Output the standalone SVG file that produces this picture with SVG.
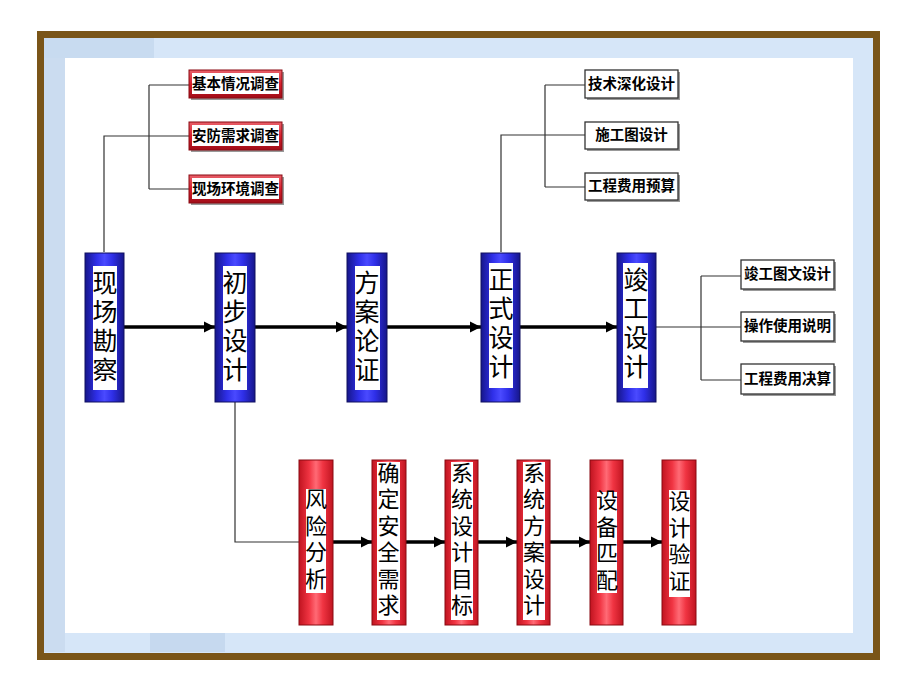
<svg xmlns="http://www.w3.org/2000/svg" width="920" height="690" viewBox="0 0 920 690">
<defs>
<linearGradient id="gBlue" x1="0" y1="0" x2="1" y2="0">
<stop offset="0" stop-color="#16168a"/><stop offset="0.3" stop-color="#2f2fe8"/><stop offset="0.5" stop-color="#4a4aff"/><stop offset="0.7" stop-color="#2f2fe8"/><stop offset="1" stop-color="#16168a"/>
</linearGradient>
<linearGradient id="gRed" x1="0" y1="0" x2="1" y2="0">
<stop offset="0" stop-color="#c01420"/><stop offset="0.3" stop-color="#f03442"/><stop offset="0.5" stop-color="#ff6a75"/><stop offset="0.7" stop-color="#f03442"/><stop offset="1" stop-color="#c01420"/>
</linearGradient>
<linearGradient id="gRedBox" x1="0" y1="0" x2="0" y2="1">
<stop offset="0" stop-color="#e8606a"/><stop offset="0.5" stop-color="#d81e2c"/><stop offset="1" stop-color="#a00d18"/>
</linearGradient>
<marker id="ah" markerUnits="userSpaceOnUse" markerWidth="12" markerHeight="12" refX="11" refY="6" orient="auto">
<path d="M0,0.5 L11,6 L0,11.5 z" fill="#000"/>
</marker>
<style>
.blue{fill:url(#gBlue);stroke:#101060;stroke-width:1}
.red{fill:url(#gRed);stroke:#8a0a12;stroke-width:1}
.inner{fill:#fff}
.big{font-family:"Noto Sans CJK SC","Noto Sans CJK JP",sans-serif;font-size:25px;fill:#000;text-anchor:middle;writing-mode:vertical-rl;letter-spacing:4px}
.mid{font-family:"Noto Sans CJK SC","Noto Sans CJK JP",sans-serif;font-size:22px;fill:#000;text-anchor:middle;writing-mode:vertical-rl;letter-spacing:4.5px}
.lbl{font-family:"Noto Sans CJK SC","Noto Sans CJK JP",sans-serif;font-size:14.5px;font-weight:bold;fill:#000;text-anchor:middle}
.rbox{fill:url(#gRedBox);stroke:#8a0a12;stroke-width:1}
.wbox{fill:#fff;stroke:#333;stroke-width:1.3}
.shadow{fill:#999}
.conn{fill:none;stroke:#333;stroke-width:1.2}
.arr{fill:none;stroke:#000;stroke-width:3.5;marker-end:url(#ah)}
</style>
</defs>
<rect x="0" y="0" width="920" height="690" fill="#fff"/>
<g id="frame">
<rect x="40.5" y="34.5" width="836" height="622" fill="#d6e6f8" stroke="#7a5518" stroke-width="7"/>
<rect x="44" y="38" width="110" height="20" fill="#c8dbf0"/>
<rect x="44" y="58" width="21" height="594" fill="#cbdcf0"/>
<rect x="150" y="633" width="75" height="19" fill="#c6d9ef"/>
<rect x="65" y="58" width="788" height="575" fill="#fff"/>
</g>
<g id="connectors">
<path class="conn" d="M149,85 V189 M149,85 H189 M149,189 H189 M104,252 V136 H189"/>
<path class="conn" d="M545,85 V187 M545,85 H585 M545,187 H585 M501,252 V135 H585"/>
<path class="conn" d="M701,276 V380 M701,276 H741 M701,380 H741 M656,327 H741"/>
<path class="conn" d="M235,402 V542 H299"/>
<line class="arr" x1="124" y1="327" x2="215" y2="327"/>
<line class="arr" x1="255" y1="327" x2="347" y2="327"/>
<line class="arr" x1="387" y1="327" x2="481" y2="327"/>
<line class="arr" x1="520" y1="327" x2="617" y2="327"/>
<line class="arr" x1="333" y1="542" x2="372" y2="542"/>
<line class="arr" x1="406" y1="542" x2="445" y2="542"/>
<line class="arr" x1="478" y1="542" x2="517" y2="542"/>
<line class="arr" x1="550" y1="542" x2="590" y2="542"/>
<line class="arr" x1="623" y1="542" x2="662" y2="542"/>
</g>
<g id="n_xckc"><rect class="blue" x="85" y="253" width="39" height="149"/><rect class="inner" x="93" y="266" width="24" height="124"/>
<text class="big" x="105" y="328">现场勘察</text></g>
<g id="n_cbsj"><rect class="blue" x="215" y="253" width="40" height="149"/><rect class="inner" x="223" y="266" width="24" height="124"/>
<text class="big" x="235" y="328">初步设计</text></g>
<g id="n_falz"><rect class="blue" x="347" y="253" width="40" height="149"/><rect class="inner" x="355" y="266" width="25" height="124"/>
<text class="big" x="367" y="328">方案论证</text></g>
<g id="n_zssj"><rect class="blue" x="481" y="253" width="39" height="149"/><rect class="inner" x="489" y="263" width="24" height="125"/>
<text class="big" x="501" y="325">正式设计</text></g>
<g id="n_jgsj"><rect class="blue" x="617" y="253" width="39" height="149"/><rect class="inner" x="623" y="263" width="25" height="125"/>
<text class="big" x="636" y="325">竣工设计</text></g>
<g id="n_jbqk"><rect class="shadow" x="191" y="72" width="93" height="28"/><rect class="rbox" x="189" y="70" width="93" height="28"/><rect class="inner" x="192" y="73" width="87" height="21"/><text class="lbl" x="235.5" y="89">基本情况调查</text></g>
<g id="n_afxq"><rect class="shadow" x="191" y="124" width="93" height="28"/><rect class="rbox" x="189" y="122" width="93" height="28"/><rect class="inner" x="192" y="125" width="87" height="21"/><text class="lbl" x="235.5" y="141">安防需求调查</text></g>
<g id="n_xchj"><rect class="shadow" x="191" y="177" width="93" height="28"/><rect class="rbox" x="189" y="175" width="93" height="28"/><rect class="inner" x="192" y="178" width="87" height="21"/><text class="lbl" x="235.5" y="194">现场环境调查</text></g>
<g id="n_jssh"><rect class="shadow" x="587" y="72" width="93" height="28"/><rect class="wbox" x="585" y="70" width="93" height="28"/><text class="lbl" x="631.5" y="89">技术深化设计</text></g>
<g id="n_sgt"><rect class="shadow" x="587" y="124" width="93" height="27"/><rect class="wbox" x="585" y="122" width="93" height="27"/><text class="lbl" x="631.5" y="140">施工图设计</text></g>
<g id="n_ysb"><rect class="shadow" x="587" y="175" width="93" height="27"/><rect class="wbox" x="585" y="173" width="93" height="27"/><text class="lbl" x="631.5" y="191">工程费用预算</text></g>
<g id="n_jgtw"><rect class="shadow" x="743" y="262" width="93" height="29"/><rect class="wbox" x="741" y="260" width="93" height="29"/><text class="lbl" x="787.5" y="279">竣工图文设计</text></g>
<g id="n_czsy"><rect class="shadow" x="743" y="314" width="93" height="29"/><rect class="wbox" x="741" y="312" width="93" height="29"/><text class="lbl" x="787.5" y="331">操作使用说明</text></g>
<g id="n_jsb"><rect class="shadow" x="743" y="366" width="93" height="30"/><rect class="wbox" x="741" y="364" width="93" height="30"/><text class="lbl" x="787.5" y="384">工程费用决算</text></g>
<g id="n_fxfx"><rect class="red" x="299" y="460" width="34" height="165"/><rect class="inner" x="306" y="489" width="20" height="104"/>
<text class="mid" x="316" y="541">风险分析</text></g>
<g id="n_qdaq"><rect class="red" x="372" y="460" width="34" height="165"/><rect class="inner" x="377" y="462" width="23" height="158"/>
<text class="mid" x="388.5" y="541">确定安全需求</text></g>
<g id="n_xtmb"><rect class="red" x="445" y="460" width="33" height="165"/><rect class="inner" x="451" y="462" width="22" height="158"/>
<text class="mid" x="462" y="541">系统设计目标</text></g>
<g id="n_xtfa"><rect class="red" x="517" y="460" width="33" height="165"/><rect class="inner" x="523" y="462" width="22" height="158"/>
<text class="mid" x="534" y="541">系统方案设计</text></g>
<g id="n_sbpp"><rect class="red" x="590" y="460" width="33" height="165"/><rect class="inner" x="597" y="492" width="20" height="101"/>
<text class="mid" x="607" y="542">设备匹配</text></g>
<g id="n_sjyz"><rect class="red" x="662" y="460" width="34" height="165"/><rect class="inner" x="669" y="490" width="21" height="107"/>
<text class="mid" x="679.5" y="543">设计验证</text></g>
</svg>
